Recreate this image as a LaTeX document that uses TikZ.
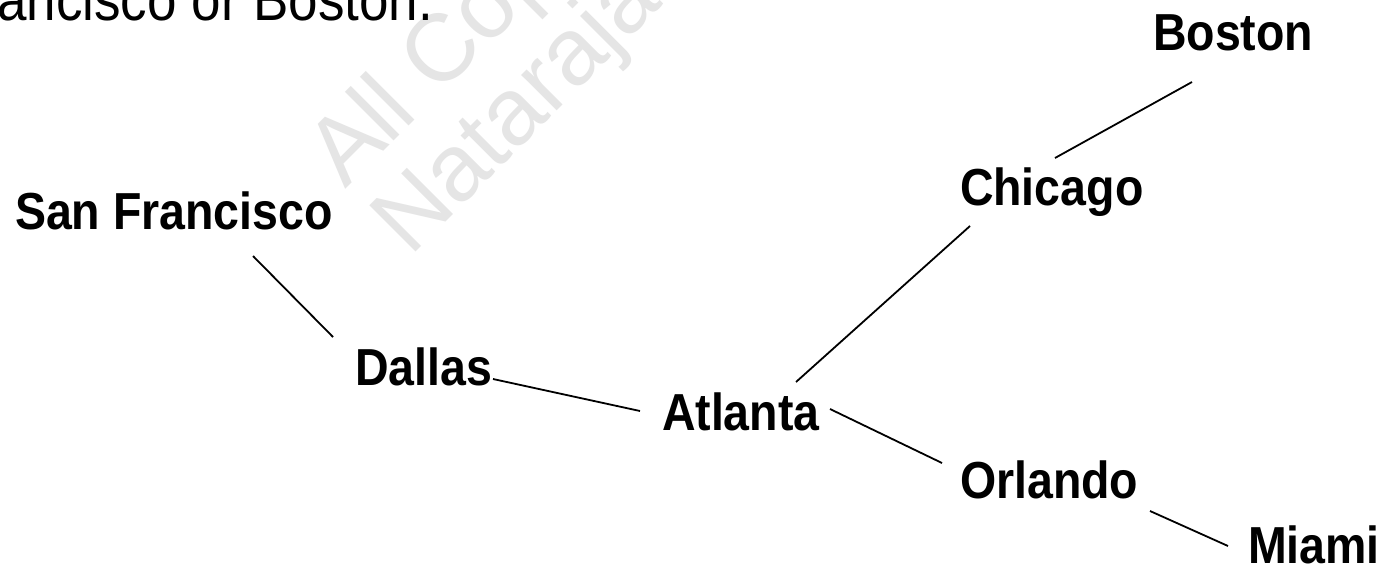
\documentclass[tikz,border=0pt]{standalone}
\usepackage{graphicx}
\usepackage{fontspec}
\setmainfont{Liberation Sans}
\newcommand\vstr[1]{\scalebox{1}[1.12]{#1}}
\begin{document}
\begin{tikzpicture}[x=1pt,y=-1pt,
  city/.style={inner sep=0pt,outer sep=0pt,anchor=base west,font=\fontsize{46.5}{55}\selectfont\bfseries},
  link/.style={line width=1.8pt},
  wmark/.style={inner sep=0pt,anchor=base west,text=black!10,rotate=45,font=\fontsize{95}{100}\selectfont}]
\useasboundingbox (0,0) rectangle (1386,571);
\fill[white] (0,0) rectangle (1386,571);
% watermark
\node[wmark] (wm1) at (345,190) {All Copyright};
\node[wmark] (wm2) at (410,258) {Natarajan};
% cut-off caption
\node[inner sep=0pt,anchor=base west,font=\fontsize{53}{60}\selectfont] (cap) at (-3,20) {\vstr{ancisco or Boston.}};
% cities
\node[city] (sf) at (15,229) {\vstr{San Francisco}};
\node[city] (dal) at (355,385) {\vstr{Dallas}};
\node[city] (atl) at (662,430) {\vstr{Atlanta}};
\node[city] (chi) at (960,205) {\vstr{Chicago}};
\node[city] (bos) at (1153,50) {\vstr{Boston}};
\node[city] (orl) at (960,498) {\vstr{Orlando}};
\node[city] (mia) at (1248,563) {\vstr{Miami}};
% connectors
\draw[link] ([shift={(238,27)}]sf.base west) -- ([shift={(-22,-48)}]dal.base west);
\draw[link] ([shift={(138,-6)}]dal.base west) -- ([shift={(-22,-19)}]atl.base west);
\draw[link] ([shift={(134,-48)}]atl.base west) -- ([shift={(10,21)}]chi.base west);
\draw[link] ([shift={(168,-21)}]atl.base west) -- ([shift={(-18,-35)}]orl.base west);
\draw[link] ([shift={(95,-47)}]chi.base west) -- ([shift={(39,32)}]bos.base west);
\draw[link] ([shift={(190,13)}]orl.base west) -- ([shift={(-20,-17)}]mia.base west);
\end{tikzpicture}
\end{document}
